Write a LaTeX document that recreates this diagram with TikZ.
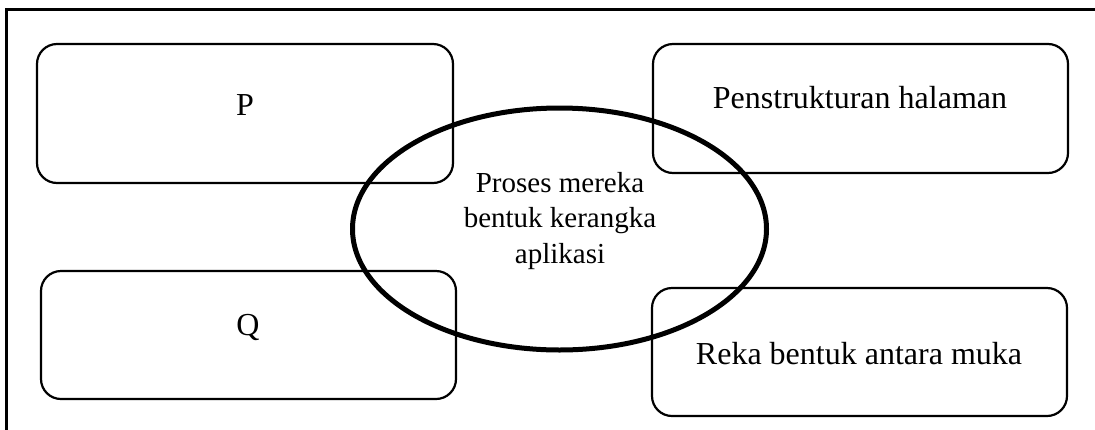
\documentclass[tikz,border=0pt]{standalone}
\usepackage{fontspec}
\setmainfont{Liberation Serif}
\usetikzlibrary{shapes.geometric}
\tikzset{
  boxshape/.style={draw, line width=2.2pt, rounded corners=20pt, inner sep=0pt},
  boxtext/.style={anchor=base, inner sep=0pt, font=\fontsize{32}{38}\selectfont},
  ringshape/.style={draw, ellipse, line width=5pt, inner sep=0pt},
  ringtext/.style={anchor=base, inner sep=0pt, align=center, font=\fontsize{29}{35.5}\selectfont},
  framestyle/.style={line width=3pt}
}
\begin{document}
\begin{tikzpicture}[x=1pt,y=-1pt]
\useasboundingbox (0,0) rectangle (1095,429);
% outer frame (only top and left edges visible)
\coordinate (fbl) at (6,440);
\coordinate (ftl) at (6,9);
\coordinate (ftr) at (1110,9);
\draw[framestyle] (fbl) -- (ftl) -- (ftr);
% boxes
\node[boxshape, minimum width=416pt, minimum height=139pt] (p) at (245,113.5) {};
\node[boxshape, minimum width=415pt, minimum height=128pt] (q) at (248.5,335) {};
\node[boxshape, minimum width=415pt, minimum height=129pt] (ph) at (860.5,108.5) {};
\node[boxshape, minimum width=415pt, minimum height=128pt] (rb) at (859.5,352) {};
% box texts
\node[boxtext] (pt) at (245,115) {P};
\node[boxtext] (qt) at (248,335) {Q};
\node[boxtext] (pht) at (860,108) {Penstrukturan halaman};
\node[boxtext] (rbt) at (859,364) {Reka bentuk antara muka};
% ellipse
\node[ringshape, minimum width=414pt, minimum height=242pt] (e) at (559.5,229) {};
\node[ringtext] (et) at (560,263) {Proses mereka\\bentuk kerangka\\aplikasi};
\end{tikzpicture}
\end{document}
